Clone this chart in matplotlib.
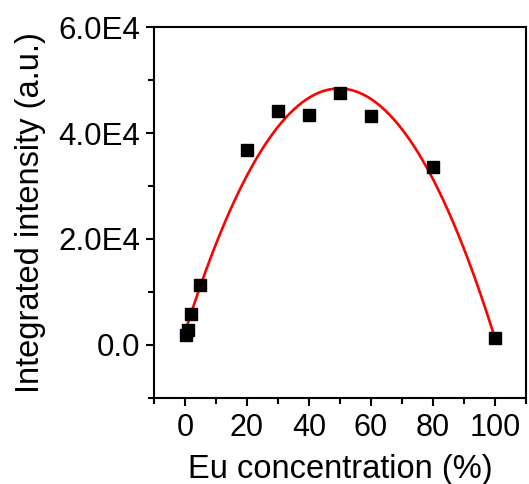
import numpy as np
import matplotlib
matplotlib.use("Agg")
import matplotlib.pyplot as plt
from matplotlib.ticker import MultipleLocator, FixedLocator

plt.rcParams['font.family'] = ['Liberation Sans', 'DejaVu Sans']

eu_conc = [0.5, 1, 2, 5, 20, 30, 40, 50, 60, 80, 100]
intensity = [1900, 2800, 5800, 11300, 36800, 44200, 43400, 47600, 43200, 33600, 1300]

ytick_vals = [0, 20000, 40000, 60000]
ytick_labels = ['0.0', '2.0E4', '4.0E4', '6.0E4']
xtick_vals = [0, 20, 40, 60, 80, 100]

fig = plt.figure(figsize=(5.29, 4.84), dpi=100)
ax = fig.add_axes([0.291, 0.178, 0.703, 0.766])

coef = np.polyfit(eu_conc, intensity, 2)
xf = np.linspace(min(eu_conc), max(eu_conc), 300)
ax.plot(xf, np.polyval(coef, xf), color='#ff0000', lw=1.9, zorder=2)
ax.plot(eu_conc, intensity, 's', color='black', ms=8.3, zorder=3)

ax.set_xlim(-10, 110)
ax.set_ylim(-10000, 60000)
ax.xaxis.set_major_locator(FixedLocator(xtick_vals))
ax.xaxis.set_minor_locator(MultipleLocator(10))
ax.yaxis.set_major_locator(FixedLocator(ytick_vals))
ax.set_yticklabels(ytick_labels)
ax.yaxis.set_minor_locator(MultipleLocator(10000))

for s in ax.spines.values():
    s.set_linewidth(1.5)
ax.tick_params(which='both', direction='out', width=1.5, top=False, right=False)
ax.tick_params(which='major', length=6)
ax.tick_params(which='minor', length=4)
ax.tick_params(axis='x', labelsize=22, pad=5)
ax.tick_params(axis='y', labelsize=22.5, pad=4)

ax.set_xlabel('Eu concentration (%)', fontsize=23.5, labelpad=8)
ax.set_ylabel('Integrated intensity (a.u.)', fontsize=23.5, labelpad=9)

fig.savefig('out.png', dpi=100)
